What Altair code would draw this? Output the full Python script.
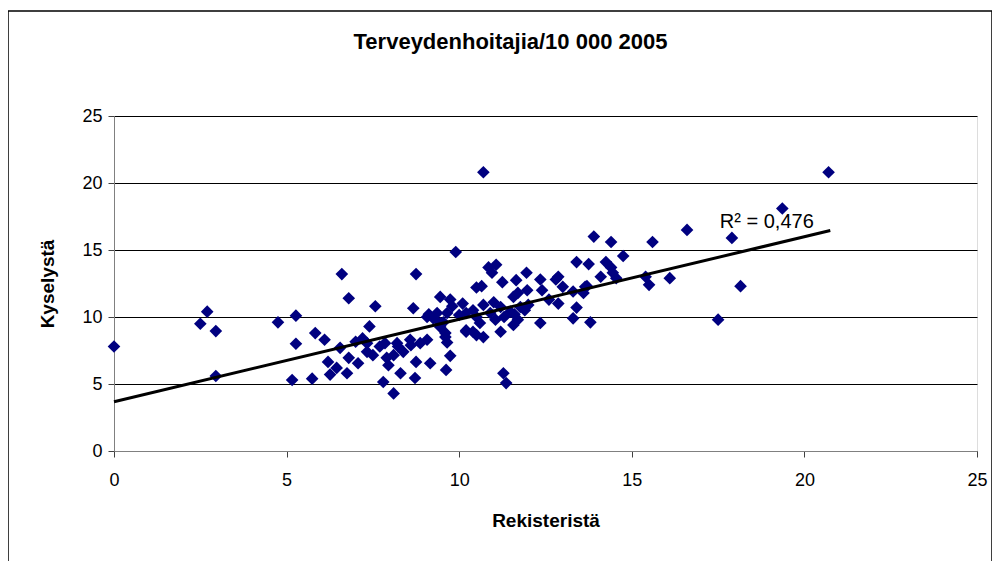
import altair as alt
import pandas as pd

rekisterista = [
    0, 2.5, 2.7, 2.95, 2.95, 4.75, 5.27, 5.27, 5.16, 5.74,
    5.83, 6.1, 6.2, 6.26, 6.45, 6.55, 6.6, 6.75, 6.8, 6.8,
    7.0, 7.07, 7.2, 7.33, 7.33, 7.4, 7.5, 7.57, 7.7, 7.85,
    7.8, 7.9, 7.95, 8.1, 8.1, 8.2, 8.23, 8.3, 8.38, 8.58,
    8.6, 8.67, 8.72, 8.75, 8.75, 8.87, 9.07, 9.07, 9.12, 9.16,
    9.25, 9.36, 9.45, 9.45, 9.45, 9.54, 9.6, 9.6, 9.62, 9.65,
    9.65, 9.74, 9.74, 9.9, 10.0, 10.2, 10.2, 10.4, 10.4, 10.5,
    10.5, 10.6, 10.65, 10.7, 10.7, 10.7, 10.85, 10.95, 11.0, 11.05,
    11.07, 11.2, 11.2, 11.25, 11.28, 11.3, 11.36, 11.48, 11.57, 11.57,
    11.65, 11.7, 11.7, 11.77, 11.9, 11.95, 11.97, 12.35, 12.35, 12.4,
    12.6, 12.8, 12.87, 12.87, 13.0, 13.3, 13.3, 13.4, 13.4, 13.6,
    13.65, 13.7, 13.75, 13.8, 13.9, 14.1, 14.25, 14.4, 14.4, 14.45,
    14.55, 14.75, 15.4, 15.5, 15.6, 16.1, 16.6, 17.5, 17.9, 18.15,
    19.36, 20.7, 10.2, 10.5, 9.8, 10.9, 11.6, 12.0, 10.1,
]
kyselysta = [
    7.8, 9.5, 10.4, 8.95, 5.6, 9.6, 10.1, 8.0, 5.3, 5.4,
    8.8, 8.3, 6.65, 5.7, 6.2, 7.7, 13.2, 5.8, 6.95, 11.4,
    8.15, 6.55, 8.4, 7.4, 8.05, 9.3, 7.15, 10.8, 7.8, 8.05,
    5.15, 6.95, 6.4, 7.15, 4.3, 8.05, 7.8, 5.8, 7.4, 8.3,
    7.9, 10.65, 5.45, 6.65, 13.2, 8.05, 8.3, 10.0, 10.2, 6.55,
    9.9, 10.3, 11.5, 9.25, 9.55, 9.6, 8.8, 8.5, 6.05, 8.1,
    10.3, 11.3, 7.1, 14.85, 10.15, 9.0, 8.9, 10.5, 8.9, 12.2,
    8.65, 9.55, 12.3, 20.8, 10.9, 8.5, 13.7, 13.3, 11.1, 9.8,
    13.9, 10.75, 8.9, 12.6, 5.8, 10.0, 5.07, 10.4, 11.5, 9.4,
    12.75, 11.8, 9.8, 10.75, 10.5, 13.3, 12.0, 12.8, 9.55, 12.0,
    11.3, 12.8, 13.0, 11.0, 12.25, 11.9, 9.9, 14.1, 10.7, 11.8,
    12.25, 12.3, 13.95, 9.6, 16.0, 13.0, 14.1, 15.6, 13.7, 13.3,
    12.9, 14.55, 13.0, 12.4, 15.6, 12.9, 16.5, 9.8, 15.9, 12.3,
    18.1, 20.8, 10.3, 10.0, 10.8, 10.3, 10.2, 10.9, 11.0,
]

# Linear trend line as drawn in the reference (end points)
trend_x = [0, 20.75]
trend_y = [3.68, 16.45]

title_text = "Terveydenhoitajia/10 000 2005"
x_title = "Rekisteristä"
y_title = "Kyselystä"
r2_label = ["R\u00b2 = 0,476"]
r2_x = [17.55]
r2_y = [16.35]

FONT = "Liberation Sans"

df = pd.DataFrame({"x": rekisterista, "y": kyselysta})
tr = pd.DataFrame({"x": trend_x, "y": trend_y})
lbl = pd.DataFrame({"x": r2_x, "y": r2_y, "t": r2_label})

xs = alt.Scale(domain=[0, 25], nice=False)
ys = alt.Scale(domain=[0, 25], nice=False)

x_axis = alt.Axis(values=[0, 5, 10, 15, 20, 25], grid=False, title=x_title,
                  labelFontSize=18, titleFontSize=19, titleFontWeight="bold",
                  labelPadding=14, titlePadding=22, tickSize=6, labelColor="black",
                  labelFlush=False,
                  titleColor="black", domainColor="#808080", tickColor="#404040")
y_axis = alt.Axis(values=[0, 5, 10, 15, 20, 25], grid=True, gridColor="black",
                  gridWidth=1, title=y_title, labelFontSize=18, titleFontSize=19,
                  titleFontWeight="bold", labelPadding=6, titlePadding=24, tickSize=6,
                  labelColor="black", titleColor="black", domainColor="#808080",
                  tickColor="#404040")

points = alt.Chart(df).mark_point(shape="diamond", filled=True, size=160,
                                  color="#000080", opacity=1).encode(
    x=alt.X("x:Q", scale=xs, axis=x_axis),
    y=alt.Y("y:Q", scale=ys, axis=y_axis),
)

trend = alt.Chart(tr).mark_line(color="black", strokeWidth=3).encode(
    x=alt.X("x:Q", scale=xs),
    y=alt.Y("y:Q", scale=ys),
)

label = alt.Chart(lbl).mark_text(align="left", baseline="bottom", fontSize=20,
                                 font=FONT, color="black").encode(
    x=alt.X("x:Q", scale=xs), y=alt.Y("y:Q", scale=ys), text="t:N"
)

frame = alt.Chart(lbl).mark_rect(fill=None, stroke="black", strokeWidth=1.5).encode(
    x=alt.value(-106), x2=alt.value(878), y=alt.value(-105), y2=alt.value(470)
)

chart = alt.layer(frame, points, trend, label).properties(
    width=863, height=335,
    title=alt.TitleParams(title_text, fontSize=22, font=FONT, fontWeight="bold",
                          color="black", offset=-44, dx=-35, frame="group"),
    padding={"left": 106, "top": 108, "right": 15, "bottom": 110},
    autosize=alt.AutoSizeParams(type="none"),
).configure_view(
    fill="#C0C0C0", stroke="#808080", strokeWidth=1.5
).configure(
    font=FONT, background="white"
)

chart.save("out.html", embed_options={"renderer": "svg", "actions": False})
